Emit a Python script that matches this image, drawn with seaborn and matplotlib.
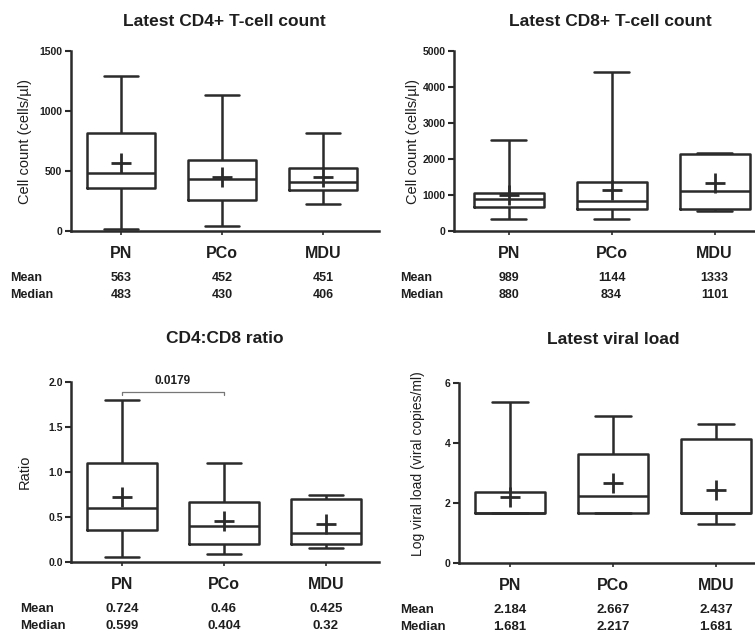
import numpy as np
import pandas as pd
import matplotlib
matplotlib.use("Agg")
import matplotlib.pyplot as plt
import seaborn as sns

groups = ["PN", "PCo", "MDU"]

cd4_min = [20, 40, 225]
cd4_q1 = [360, 260, 340]
cd4_median = [483, 430, 406]
cd4_q3 = [815, 590, 525]
cd4_max = [1295, 1130, 820]
cd4_mean = [563, 452, 451]

cd8_min = [330, 330, 550]
cd8_q1 = [680, 620, 620]
cd8_median = [880, 834, 1101]
cd8_q3 = [1060, 1370, 2150]
cd8_max = [2520, 4430, 2170]
cd8_mean = [989, 1144, 1333]

ratio_min = [0.055, 0.085, 0.155]
ratio_q1 = [0.36, 0.20, 0.20]
ratio_median = [0.599, 0.404, 0.32]
ratio_q3 = [1.10, 0.67, 0.70]
ratio_max = [1.80, 1.10, 0.745]
ratio_mean = [0.724, 0.46, 0.425]

vl_min = [1.681, 1.681, 1.30]
vl_q1 = [1.681, 1.681, 1.681]
vl_median = [1.681, 2.217, 1.681]
vl_q3 = [2.37, 3.65, 4.15]
vl_max = [5.36, 4.90, 4.65]
vl_mean = [2.184, 2.667, 2.437]

# significance bracket on the ratio panel
ratio_pair = [0, 1]
ratio_bracket_y = 1.89
ratio_p = "0.0179"

INK = "#2b2b2b"
TXT = "#1e1e1e"
W, H = 755, 635

sns.set_style("ticks")
plt.rcParams["font.family"] = ["Liberation Sans", "DejaVu Sans"]

fig = plt.figure(figsize=(W / 100, H / 100), dpi=100)


def make_ax(left, bottom, width, height=180):
    return fig.add_axes([left / W, 1 - bottom / H, width / W, height / H])


def draw_panel(ax, mins, q1s, meds, q3s, maxs, means, title, ylabel,
               ylim, yticks, yfmt, xlim, title_pad, ylab_x, ylab_y=0.5,
               ylab_size=10.5, row_x=-58, row_size=9):
    df = pd.DataFrame({
        "group": np.repeat(groups, 5),
        "value": np.column_stack([mins, q1s, meds, q3s, maxs]).ravel(),
    })
    sns.boxplot(data=df, x="group", y="value", order=groups, whis=(0, 100),
                fill=False, color=INK, linewidth=1.8, width=0.68,
                showfliers=False, ax=ax)
    sns.pointplot(x=groups, y=means, order=groups, errorbar=None,
                  linestyle="none", marker="+", markersize=14,
                  markeredgewidth=2.0, color=INK, ax=ax)

    ax.set_xlim(*xlim)
    ax.set_ylim(*ylim)
    ax.set_yticks(yticks)
    ax.set_yticklabels([yfmt.format(t) for t in yticks])
    sns.despine(ax=ax)
    for s in ["left", "bottom"]:
        ax.spines[s].set_linewidth(1.8)
        ax.spines[s].set_color(INK)
    ax.tick_params(axis="y", length=4, width=1.5, color=INK, pad=2,
                   labelsize=7.5, labelcolor=TXT)
    ax.tick_params(axis="x", length=3, width=1.2, color=INK, pad=8,
                   labelsize=11.5, labelcolor=TXT)
    for lab in ax.get_yticklabels() + ax.get_xticklabels():
        lab.set_fontweight("bold")
    ax.set_xlabel("")
    ax.set_ylabel(ylabel, fontsize=ylab_size, color=TXT)
    ax.yaxis.set_label_coords(ylab_x, ylab_y)
    ax.set_title(title, fontsize=12.5, fontweight="bold", color=TXT,
                 pad=title_pad)

    # mean / median rows under the axis
    tr = ax.get_xaxis_transform()
    for label, vals, dy in [("Mean", means, -47), ("Median", meds, -64)]:
        ax.annotate(label, xy=(0, 0), xycoords="axes fraction",
                    xytext=(row_x, dy), textcoords="offset pixels",
                    ha="left", va="center", fontsize=row_size,
                    fontweight="bold", color=TXT, annotation_clip=False)
        for i, v in enumerate(vals):
            ax.annotate(f"{v:g}", xy=(i, 0), xycoords=tr,
                        xytext=(0, dy), textcoords="offset pixels",
                        ha="center", va="center", fontsize=row_size,
                        fontweight="bold", color=TXT,
                        annotation_clip=False)


ax1 = make_ax(70.5, 231, 308)
draw_panel(ax1, cd4_min, cd4_q1, cd4_median, cd4_q3, cd4_max, cd4_mean,
           "Latest CD4+ T-cell count", "Cell count (cells/µl)",
           (0, 1500), [0, 500, 1000, 1500], "{:d}", (-0.5, 2.55), 18,
           -38 / 308, row_x=-60)

ax2 = make_ax(454, 231, 312)
draw_panel(ax2, cd8_min, cd8_q1, cd8_median, cd8_q3, cd8_max, cd8_mean,
           "Latest CD8+ T-cell count", "Cell count (cells/µl)",
           (0, 5000), [0, 1000, 2000, 3000, 4000, 5000], "{:d}",
           (-0.53, 2.5), 18, -34 / 312, row_x=-54)

ax3 = make_ax(71, 562, 308)
draw_panel(ax3, ratio_min, ratio_q1, ratio_median, ratio_q3, ratio_max,
           ratio_mean, "CD4:CD8 ratio", "Ratio",
           (0, 2.0), [0.0, 0.5, 1.0, 1.5, 2.0], "{:.1f}", (-0.5, 2.52), 28,
           -39 / 308, row_x=-51, row_size=9.5)
a, b = ratio_pair
ax3.plot([a, a, b, b],
         [ratio_bracket_y - 0.035, ratio_bracket_y, ratio_bracket_y,
          ratio_bracket_y - 0.035],
         color="#777777", lw=0.9, clip_on=False)
ax3.text((a + b) / 2, ratio_bracket_y + 0.05, ratio_p, ha="center",
         va="bottom", fontsize=8.5, fontweight="bold", color=TXT)

ax4 = make_ax(458.5, 563, 309)
draw_panel(ax4, vl_min, vl_q1, vl_median, vl_q3, vl_max, vl_mean,
           "Latest viral load", "Log viral load (viral copies/ml)",
           (0, 6), [0, 2, 4, 6], "{:d}", (-0.5, 2.5), 28,
           -33.5 / 309, ylab_y=0.55, ylab_size=10, row_x=-58, row_size=9.5)

fig.savefig("out.png", dpi=100)
